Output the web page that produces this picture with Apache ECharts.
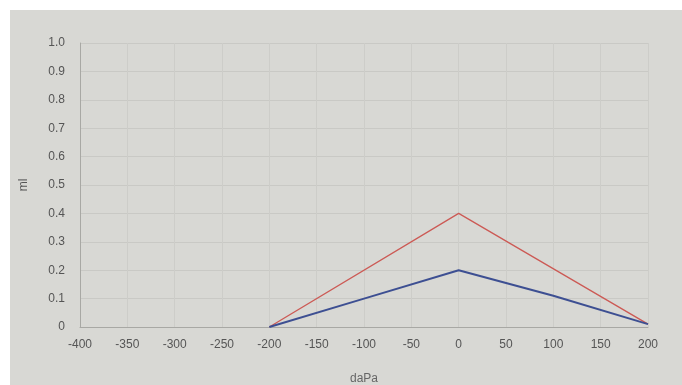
<!DOCTYPE html>
<html><head><meta charset="utf-8">
<script src="https://cdn.jsdelivr.net/npm/echarts@6/dist/echarts.min.js"></script>
<style>html,body{margin:0;padding:0;background:#ffffff;}#c{width:682px;height:385px;}</style>
</head><body><div id="c"></div>
<script>
const xTicks = [-400, -350, -300, -250, -200, -150, -100, -50, 0, 50, 100, 150, 200];
const yTicks = [0, 0.1, 0.2, 0.3, 0.4, 0.5, 0.6, 0.7, 0.8, 0.9, 1.0];
const redPressure = [-200, 0, 200];
const redVolume = [0.0, 0.4, 0.01];
const bluePressure = [-200, -100, 0, 100, 200];
const blueVolume = [0.0, 0.1, 0.2, 0.11, 0.01];

const chart = echarts.init(document.getElementById('c'));
const font = 'Liberation Sans, Arial, sans-serif';
chart.setOption({
  animation: false,
  backgroundColor: 'transparent',
  graphic: [{type: 'rect', z: -10, shape: {x: 10, y: 10, width: 672, height: 375}, style: {fill: '#d8d8d4'}}],
  grid: {left: 80, right: 34, top: 43, bottom: 58, outerBoundsMode: 'none', containLabel: false},
  xAxis: {
    type: 'value', min: xTicks[0], max: xTicks[xTicks.length - 1], interval: 50,
    name: 'daPa', nameLocation: 'middle', nameGap: 46,
    nameTextStyle: {color: '#666', fontSize: 12, fontFamily: font},
    axisLine: {show: true, onZero: false, lineStyle: {color: '#a8a8a4', width: 1}},
    axisTick: {show: false},
    axisLabel: {color: '#555', fontSize: 12, fontFamily: font, margin: 12},
    splitLine: {show: true, lineStyle: {color: '#cdcdc9', width: 1}}
  },
  yAxis: {
    type: 'value', min: yTicks[0], max: yTicks[yTicks.length - 1], interval: 0.1,
    name: 'ml', nameLocation: 'middle', nameGap: 50,
    nameTextStyle: {color: '#555', fontSize: 12, fontFamily: font},
    axisLine: {show: true, onZero: false, lineStyle: {color: '#a8a8a4', width: 1}},
    axisTick: {show: false},
    axisLabel: {color: '#555', fontSize: 12, fontFamily: font, margin: 15,
      formatter: v => (v === 0 ? '0' : v.toFixed(1))},
    splitLine: {show: true, lineStyle: {color: '#c9c9c5', width: 1}}
  },
  series: [{
    type: 'line', data: redPressure.map((p, i) => [p, redVolume[i]]),
    symbol: 'none', lineStyle: {color: '#cc5a55', width: 1.3}
  }, {
    type: 'line', data: bluePressure.map((p, i) => [p, blueVolume[i]]),
    symbol: 'none', lineStyle: {color: '#3d4f92', width: 2}
  }]
});
</script></body></html>
